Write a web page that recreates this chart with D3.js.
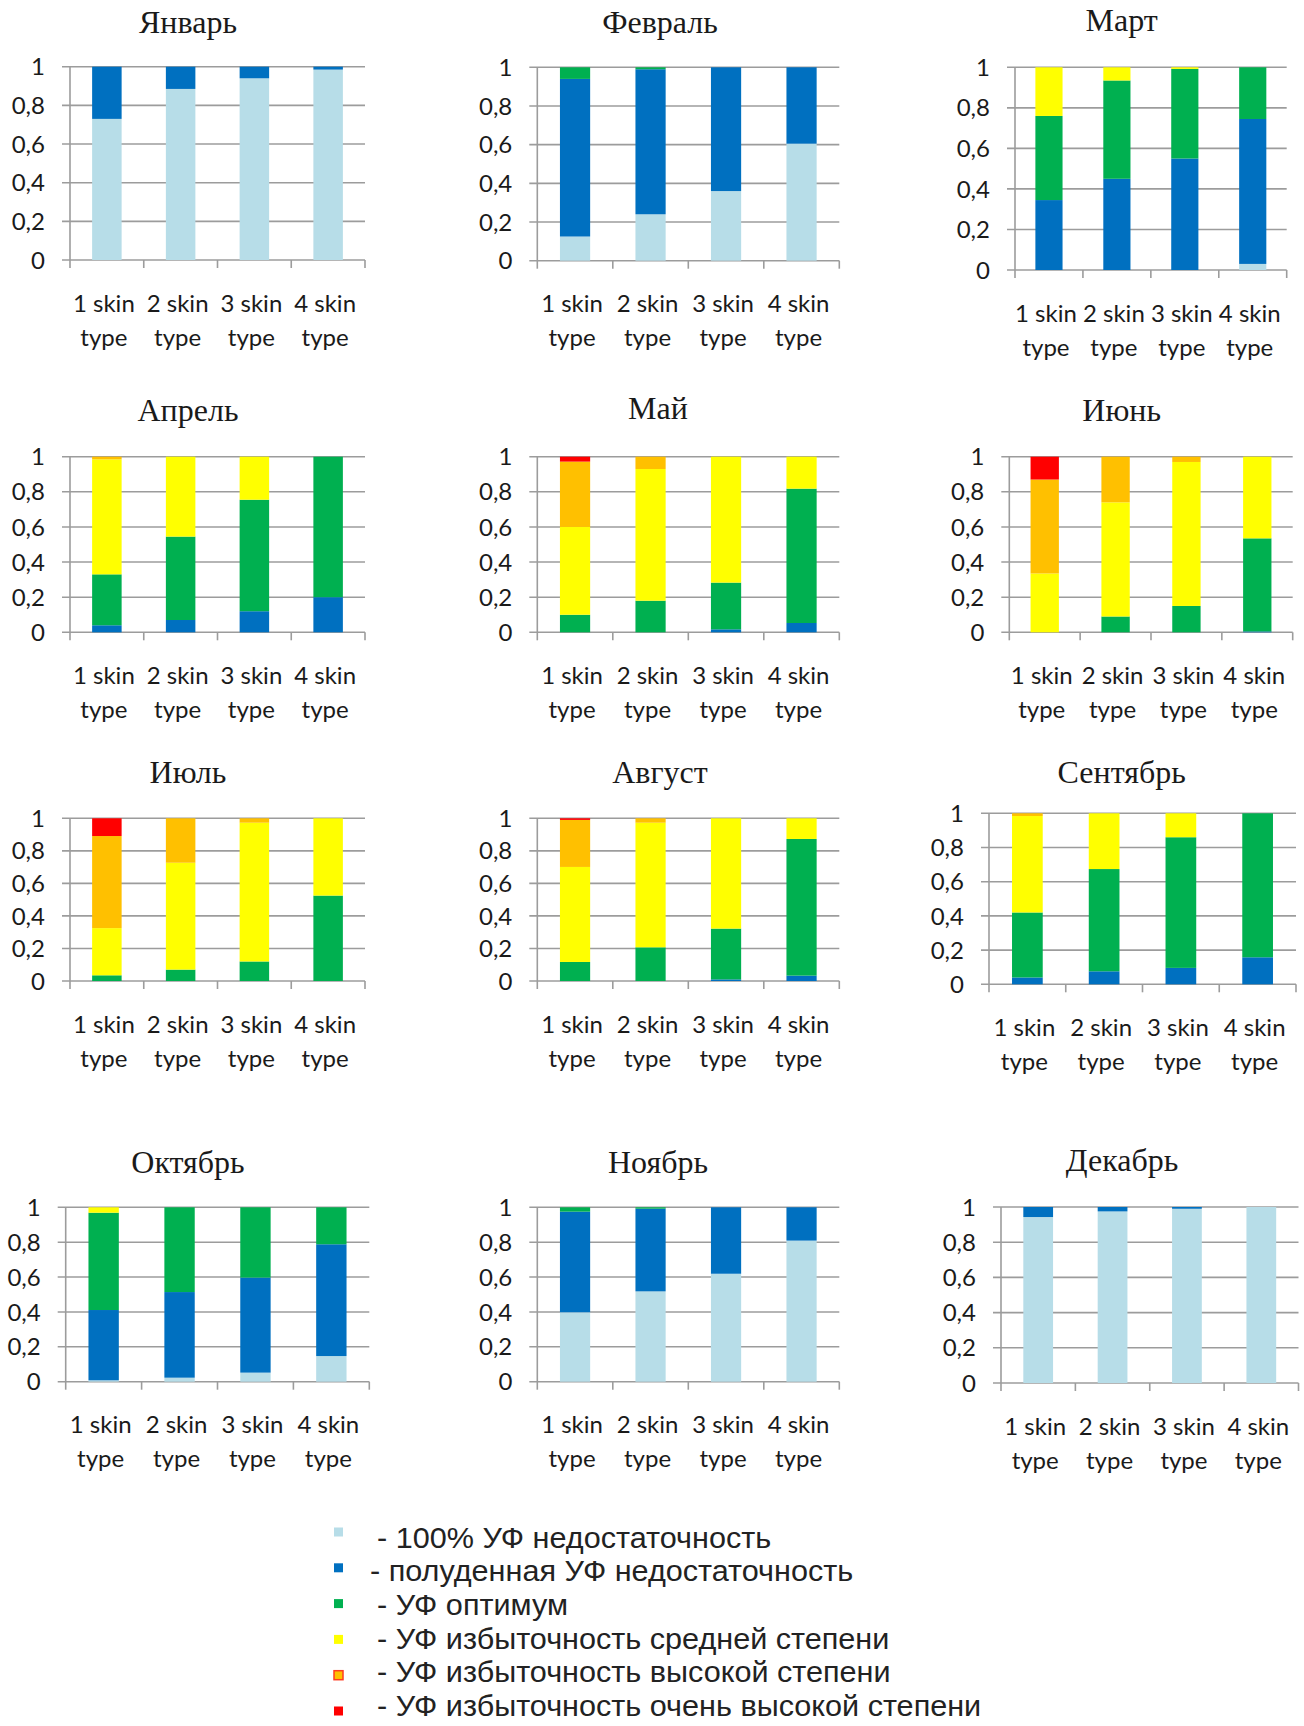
<!DOCTYPE html>
<html>
<head>
<meta charset="utf-8">
<script src="https://cdn.jsdelivr.net/npm/d3@7"></script>
<style>
  body { margin: 0; background: #fff; }
  svg { display: block; }
</style>
</head>
<body>
<svg id="chart" width="1304" height="1726"></svg>
<script>
// ---- data -----------------------------------------------------------
const months = ["Январь", "Февраль", "Март", "Апрель", "Май", "Июнь",
                "Июль", "Август", "Сентябрь", "Октябрь", "Ноябрь", "Декабрь"];
const skinTypes = ["1 skin type", "2 skin type", "3 skin type", "4 skin type"];
const seriesNames = [
  "- 100% УФ недостаточность",
  "- полуденная УФ недостаточность",
  "- УФ оптимум",
  "- УФ избыточность средней степени",
  "- УФ избыточность высокой степени",
  "- УФ избыточность очень высокой степени"
];
const yTicks = [0, 0.2, 0.4, 0.6, 0.8, 1];

// shares per skin type: [100% deficit, midday deficit, optimum, moderate, high, very high]
const january   = [[0.73, 0.27, 0, 0, 0, 0], [0.885, 0.115, 0, 0, 0, 0], [0.94, 0.06, 0, 0, 0, 0], [0.985, 0.015, 0, 0, 0, 0]];
const february  = [[0.125, 0.815, 0.06, 0, 0, 0], [0.24, 0.75, 0.01, 0, 0, 0], [0.36, 0.64, 0, 0, 0, 0], [0.605, 0.395, 0, 0, 0, 0]];
const march     = [[0, 0.345, 0.415, 0.24, 0, 0], [0, 0.45, 0.485, 0.065, 0, 0], [0, 0.55, 0.442, 0.008, 0, 0], [0.03, 0.715, 0.255, 0, 0, 0]];
const april     = [[0, 0.04, 0.29, 0.655, 0.015, 0], [0, 0.07, 0.475, 0.455, 0, 0], [0, 0.12, 0.635, 0.245, 0, 0], [0, 0.2, 0.8, 0, 0, 0]];
const may       = [[0, 0, 0.1, 0.5, 0.372, 0.028], [0, 0, 0.18, 0.75, 0.07, 0], [0, 0.017, 0.266, 0.717, 0, 0], [0, 0.053, 0.765, 0.182, 0, 0]];
const june      = [[0, 0, 0, 0.335, 0.535, 0.13], [0, 0, 0.09, 0.65, 0.26, 0], [0, 0, 0.15, 0.82, 0.03, 0], [0, 0.005, 0.53, 0.465, 0, 0]];
const july      = [[0, 0, 0.035, 0.29, 0.566, 0.109], [0, 0, 0.07, 0.657, 0.273, 0], [0, 0, 0.12, 0.853, 0.027, 0], [0, 0, 0.525, 0.475, 0, 0]];
const august    = [[0, 0, 0.117, 0.584, 0.289, 0.01], [0, 0, 0.207, 0.766, 0.027, 0], [0, 0.01, 0.312, 0.678, 0, 0], [0, 0.033, 0.84, 0.127, 0, 0]];
const september = [[0, 0.04, 0.38, 0.564, 0.016, 0], [0, 0.076, 0.598, 0.326, 0, 0], [0, 0.096, 0.764, 0.14, 0, 0], [0, 0.158, 0.842, 0, 0, 0]];
const october   = [[0.008, 0.403, 0.558, 0.031, 0, 0], [0.023, 0.491, 0.486, 0, 0, 0], [0.052, 0.545, 0.403, 0, 0, 0], [0.147, 0.641, 0.212, 0, 0, 0]];
const november  = [[0.398, 0.577, 0.025, 0, 0, 0], [0.518, 0.474, 0.008, 0, 0, 0], [0.619, 0.381, 0, 0, 0, 0], [0.809, 0.191, 0, 0, 0, 0]];
const december  = [[0.943, 0.057, 0, 0, 0, 0], [0.975, 0.025, 0, 0, 0, 0], [0.99, 0.01, 0, 0, 0, 0], [1, 0, 0, 0, 0, 0]];

const monthData = [january, february, march, april, may, june,
                   july, august, september, october, november, december];

// ---- styles & layout ------------------------------------------------
const seriesColors = ["#b7dde8", "#0070c0", "#00b050", "#ffff00", "#ffc000", "#ff0000"];
const gridColor = "#9c9c9c";
const textColor = "#1a1a1a";

// plot rectangle (l, r, t, b) and title centre for each month
const panelBoxes = [
  { l: 70,     r: 365,    t: 66.7,   b: 260,    tx: 188,    ty: 21.7 },
  { l: 537.3,  r: 839.3,  t: 67.3,   b: 260.7,  tx: 660,    ty: 21.7 },
  { l: 1015,   r: 1286.7, t: 67.3,   b: 270,    tx: 1121.7, ty: 20 },
  { l: 70,     r: 365,    t: 456.7,  b: 632.3,  tx: 188,    ty: 410 },
  { l: 537.3,  r: 839.3,  t: 456.7,  b: 632.3,  tx: 658,    ty: 408 },
  { l: 1009.3, r: 1292.7, t: 456.7,  b: 632.3,  tx: 1121.7, ty: 410 },
  { l: 70,     r: 365,    t: 818.3,  b: 981,    tx: 188,    ty: 771.7 },
  { l: 537.3,  r: 839.3,  t: 818.3,  b: 981,    tx: 660,    ty: 771.7 },
  { l: 989,    r: 1296,   t: 813.3,  b: 984.3,  tx: 1121.7, ty: 771.7 },
  { l: 65.7,   r: 369.3,  t: 1207.3, b: 1381.7, tx: 188,    ty: 1161.7 },
  { l: 537.3,  r: 839.3,  t: 1207.3, b: 1381.7, tx: 658,    ty: 1161.7 },
  { l: 1001,   r: 1298.5, t: 1207,   b: 1383,   tx: 1122,   ty: 1160 }
];

const svg = d3.select("#chart");
svg.append("rect").attr("width", 1304).attr("height", 1726).attr("fill", "#fff");

const fmt = d => d3.format(".1~f")(d).replace(".", ",");
const stack = d3.stack().keys(d3.range(seriesNames.length));

monthData.forEach((rows, i) => {
  const box = panelBoxes[i];
  const x = d3.scaleBand().domain(skinTypes).range([box.l, box.r]).padding(0);
  const y = d3.scaleLinear().domain([0, 1]).range([box.b, box.t]);
  const g = svg.append("g").attr("class", "panel");

  // horizontal gridlines (with small outer ticks left of the axis)
  g.selectAll("line.grid").data(yTicks).join("line")
    .attr("class", "grid")
    .attr("x1", box.l - 8).attr("x2", box.r)
    .attr("y1", d => y(d)).attr("y2", d => y(d))
    .attr("stroke", gridColor).attr("stroke-width", 1.6);

  // vertical axis line
  g.append("line")
    .attr("x1", box.l).attr("x2", box.l)
    .attr("y1", y(1)).attr("y2", y(0) + 8)
    .attr("stroke", gridColor).attr("stroke-width", 1.6);

  // category boundary ticks
  const bounds = skinTypes.slice(1).map(c => x(c)).concat([x(skinTypes[skinTypes.length - 1]) + x.bandwidth()]);
  g.selectAll("line.xt").data(bounds).join("line")
    .attr("class", "xt")
    .attr("x1", d => d).attr("x2", d => d)
    .attr("y1", y(0)).attr("y2", y(0) + 8)
    .attr("stroke", gridColor).attr("stroke-width", 1.6);

  // stacked bars
  const layers = stack(rows);
  g.selectAll("g.layer").data(layers).join("g")
    .attr("class", "layer")
    .attr("fill", (d, k) => seriesColors[k])
    .selectAll("rect").data(d => d).join("rect")
    .attr("x", (d, j) => x(skinTypes[j]) + x.bandwidth() * 0.3)
    .attr("width", x.bandwidth() * 0.4)
    .attr("y", d => y(d[1]))
    .attr("height", d => Math.max(0, y(d[0]) - y(d[1])));

  // y tick labels
  g.selectAll("text.yl").data(yTicks).join("text")
    .attr("class", "yl")
    .attr("x", box.l - 25).attr("y", d => y(d)).attr("dy", "0.36em")
    .attr("text-anchor", "end")
    .attr("font-family", "Lato, 'Open Sans', sans-serif").attr("font-size", 24)
    .attr("fill", textColor)
    .text(fmt);

  // category labels on two lines
  const xl = g.selectAll("text.xl").data(skinTypes).join("text")
    .attr("class", "xl")
    .attr("text-anchor", "middle")
    .attr("font-family", "Lato, 'Open Sans', sans-serif").attr("font-size", 24)
    .attr("fill", textColor);
  xl.append("tspan")
    .attr("x", d => x(d) + x.bandwidth() / 2 - 3).attr("y", y(0) + 43).attr("dy", "0.36em")
    .text(d => d.slice(0, d.lastIndexOf(" ")));
  xl.append("tspan")
    .attr("x", d => x(d) + x.bandwidth() / 2 - 3).attr("y", y(0) + 77).attr("dy", "0.36em")
    .text(d => d.slice(d.lastIndexOf(" ") + 1));

  // month title
  g.append("text")
    .attr("x", box.tx).attr("y", box.ty).attr("dy", "0.34em")
    .attr("text-anchor", "middle")
    .attr("font-family", "'Liberation Serif', 'Times New Roman', serif").attr("font-size", 32)
    .attr("fill", textColor)
    .text(months[i]);
});

// ---- legend ---------------------------------------------------------
const legend = svg.append("g").attr("class", "legend");
const rowY = d3.scaleLinear().domain([0, seriesNames.length - 1]).range([1537, 1705]);
const boxY = d3.scaleLinear().domain([0, seriesNames.length - 1]).range([1532, 1711]);
const textX = [377, 370, 377, 377, 377, 377];

legend.selectAll("rect").data(seriesNames).join("rect")
  .attr("x", 334).attr("y", (d, k) => boxY(k) - 4.5)
  .attr("width", 9).attr("height", 9)
  .attr("fill", (d, k) => seriesColors[k])
  .attr("stroke", (d, k) => k === 4 ? "#ff3b1f" : "none")
  .attr("stroke-width", 1.5);

legend.selectAll("text").data(seriesNames).join("text")
  .attr("transform", (d, k) => `translate(${textX[k]},${rowY(k)}) scale(1.02,1)`)
  .attr("dy", "0.36em")
  .attr("font-family", "'Liberation Sans', Arial, sans-serif").attr("font-size", 30)
  .attr("fill", "#222")
  .text(d => d);
</script>
</body>
</html>
